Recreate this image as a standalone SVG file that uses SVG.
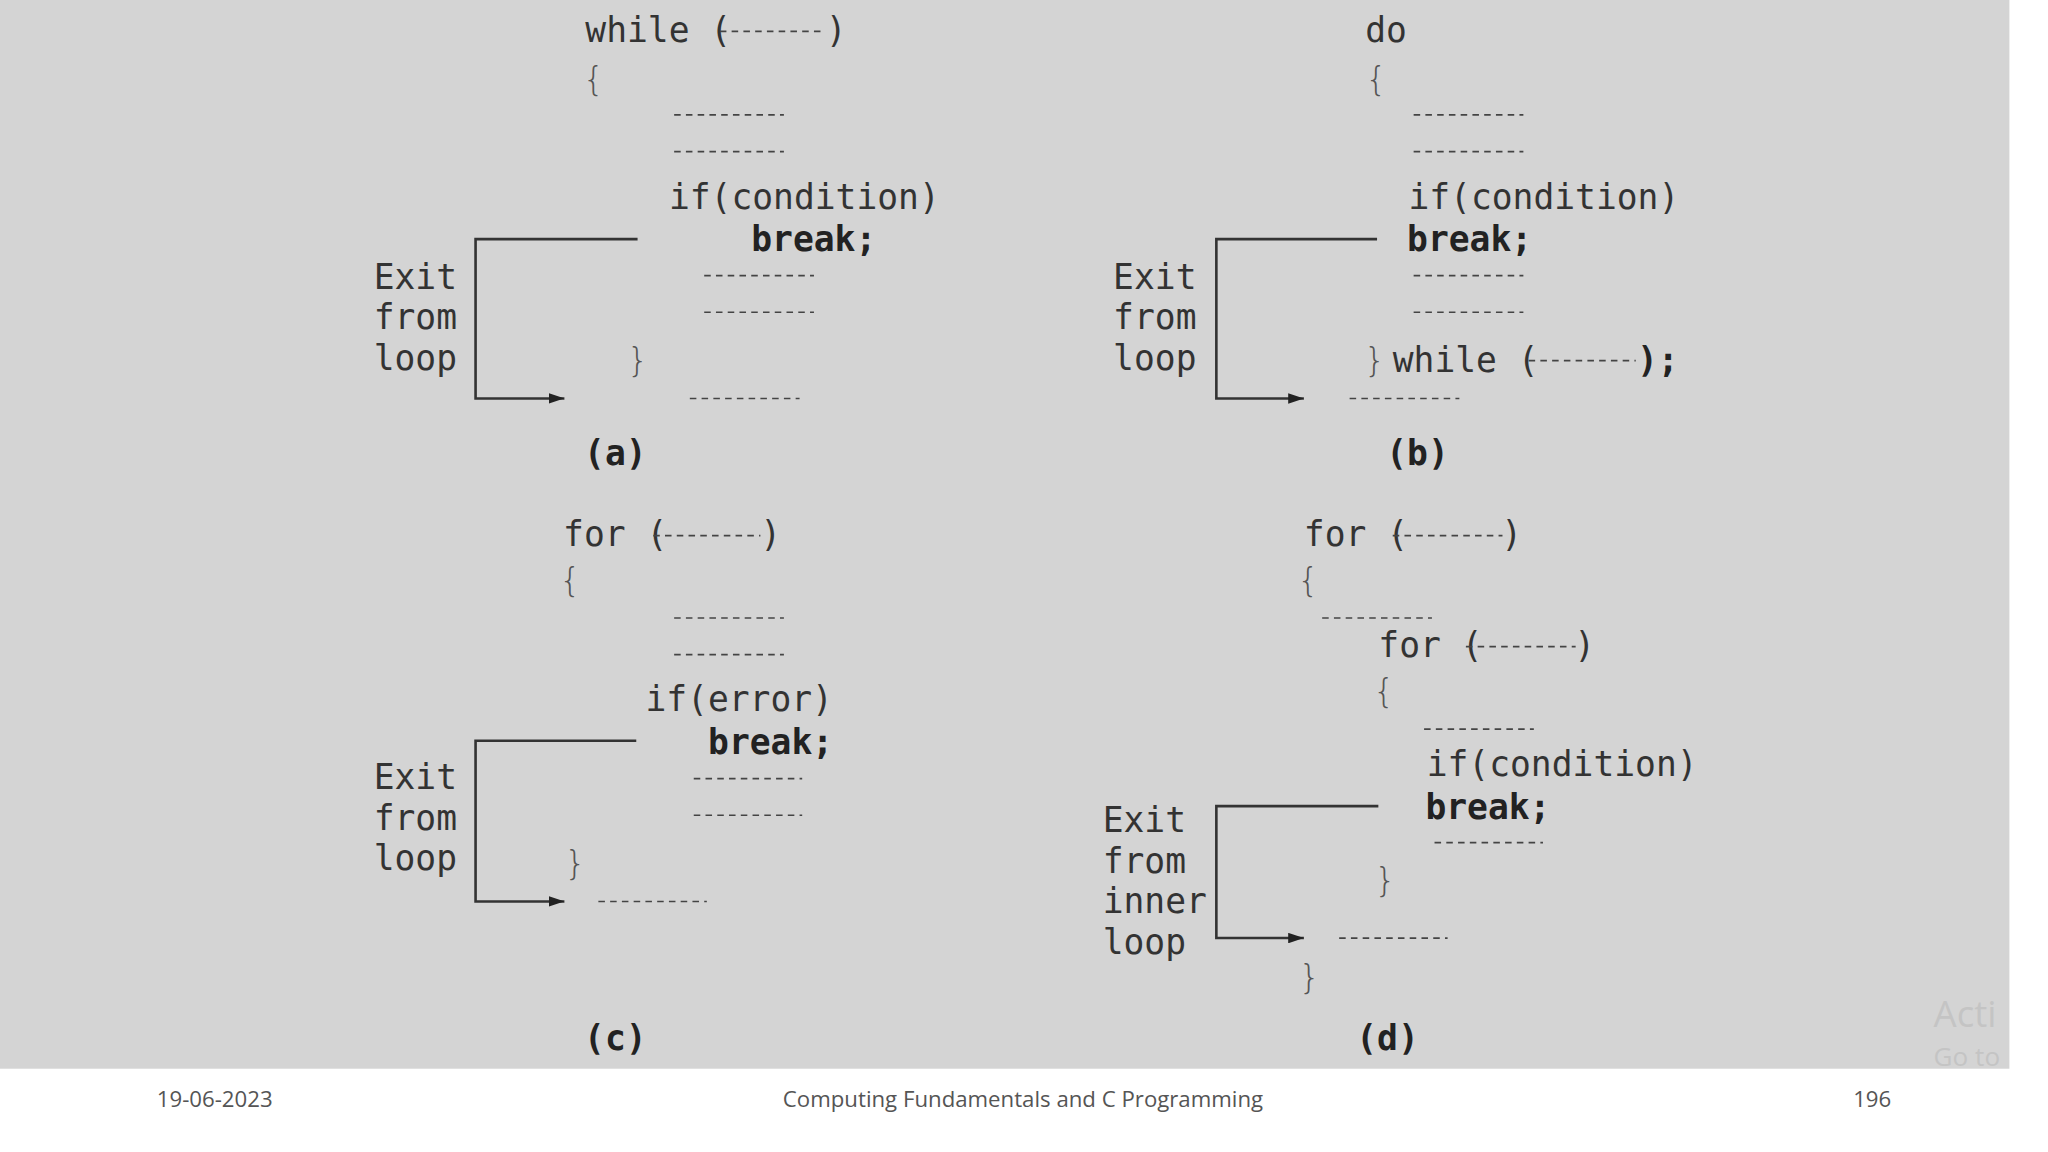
<svg xmlns="http://www.w3.org/2000/svg" width="2048" height="1152" viewBox="0 0 2048 1152">
<defs>
<style>
.c{font-family:"DejaVu Sans Mono","Liberation Mono",monospace;font-size:26.5px;fill:#333}
.b{font-weight:bold;fill:#222}
.br{font-family:"DejaVu Sans",sans-serif;font-size:26px;fill:#555;font-weight:200}
.d{stroke:#444;stroke-width:1.3;stroke-dasharray:5 4;fill:none}
.w{stroke:#333;stroke-width:2;fill:none}
.f{font-family:"Open Sans","Liberation Sans",sans-serif;font-size:17px;fill:#555}
</style>
<marker id="ah" viewBox="0 0 12 8" refX="12" refY="4" markerWidth="12" markerHeight="8" markerUnits="userSpaceOnUse" orient="auto"><path d="M0,0L12,4L0,8z" fill="#222"/></marker>
</defs>
<rect width="2048" height="1152" fill="#fff"/>
<g transform="scale(1.3065,1.3065)">
<rect x="0" y="0" width="1538" height="818" fill="#d4d4d4"/>
<g id="a">
<text class="c" x="448" y="32">while (</text><line class="d" x1="551" y1="24" x2="631" y2="24"/><text class="c" x="632" y="32">)</text>
<text class="br" x="446" y="70">{</text>
<line class="d" x1="516" y1="88" x2="600" y2="88"/><line class="d" x1="516" y1="116" x2="600" y2="116"/>
<text class="c" x="512" y="160">if(condition)</text>
<text class="c b" x="575" y="192">break;</text>
<line class="d" x1="539" y1="211" x2="623" y2="211"/><line class="d" x1="539" y1="239" x2="623" y2="239"/>
<text class="br" x="480" y="285">}</text>
<line class="d" x1="528" y1="305" x2="612" y2="305"/>
<text class="c" x="286" y="221">Exit</text><text class="c" x="286" y="252">from</text><text class="c" x="286" y="283">loop</text>
<text class="c b" x="471" y="356" text-anchor="middle">(a)</text>
</g>
<g id="b">
<text class="c" x="1045" y="32">do</text>
<text class="br" x="1045" y="70">{</text>
<line class="d" x1="1082" y1="88" x2="1166" y2="88"/><line class="d" x1="1082" y1="116" x2="1166" y2="116"/>
<text class="c" x="1078" y="160">if(condition)</text>
<text class="c b" x="1077" y="192">break;</text>
<line class="d" x1="1082" y1="211" x2="1166" y2="211"/><line class="d" x1="1082" y1="239" x2="1166" y2="239"/>
<text class="br" x="1044" y="285">}</text><text class="c" x="1066" y="285">while (</text><line class="d" x1="1170" y1="276" x2="1252" y2="276"/><text class="c b" x="1253" y="285">);</text>
<line class="d" x1="1033" y1="305" x2="1117" y2="305"/>
<text class="c" x="852" y="221">Exit</text><text class="c" x="852" y="252">from</text><text class="c" x="852" y="283">loop</text>
<text class="c b" x="1085" y="356" text-anchor="middle">(b)</text>
</g>
<g id="c">
<text class="c" x="431" y="418">for (</text><line class="d" x1="500" y1="410" x2="582" y2="410"/><text class="c" x="582" y="418">)</text>
<text class="br" x="428" y="453">{</text>
<line class="d" x1="516" y1="473" x2="600" y2="473"/><line class="d" x1="516" y1="501" x2="600" y2="501"/>
<text class="c" x="494" y="544">if(error)</text>
<text class="c b" x="542" y="577">break;</text>
<line class="d" x1="531" y1="596" x2="614" y2="596"/><line class="d" x1="531" y1="624" x2="614" y2="624"/>
<text class="br" x="432" y="670">}</text>
<line class="d" x1="458" y1="690" x2="541" y2="690"/>
<text class="c" x="286" y="604">Exit</text><text class="c" x="286" y="635">from</text><text class="c" x="286" y="666">loop</text>
<text class="c b" x="471" y="804" text-anchor="middle">(c)</text>
</g>
<g id="d">
<text class="c" x="998" y="418">for (</text><line class="d" x1="1066" y1="410" x2="1150" y2="410"/><text class="c" x="1149" y="418">)</text>
<text class="br" x="993" y="453">{</text>
<line class="d" x1="1012" y1="473" x2="1096" y2="473"/>
<text class="c" x="1055" y="503">for (</text><line class="d" x1="1122" y1="495" x2="1206" y2="495"/><text class="c" x="1205" y="503">)</text>
<text class="br" x="1051" y="538">{</text>
<line class="d" x1="1090" y1="558" x2="1174" y2="558"/>
<text class="c" x="1092" y="594">if(condition)</text>
<text class="c b" x="1091" y="627">break;</text>
<line class="d" x1="1098" y1="645" x2="1181" y2="645"/>
<text class="br" x="1052" y="683">}</text>
<line class="d" x1="1025" y1="718" x2="1108" y2="718"/>
<text class="br" x="994" y="757">}</text>
<text class="c" x="844" y="637">Exit</text><text class="c" x="844" y="668">from</text><text class="c" x="844" y="699">inner</text><text class="c" x="844" y="730">loop</text>
<text class="c b" x="1062" y="804" text-anchor="middle">(d)</text>
</g>
<g id="connectors">
<path class="w" d="M488,183H364V305H432" marker-end="url(#ah)"/>
<path class="w" d="M1054,183H931V305H998" marker-end="url(#ah)"/>
<path class="w" d="M487,567H364V690H432" marker-end="url(#ah)"/>
<path class="w" d="M1055,617H931V718H998" marker-end="url(#ah)"/>
</g>
<text x="1480" y="786" font-family="Open Sans,sans-serif" font-size="28" fill="#c4c4c4">Acti</text>
<text x="1480" y="816" font-family="Open Sans,sans-serif" font-size="20" fill="#c4c4c4">Go to</text>
<text class="f" x="120" y="847">19-06-2023</text>
<text class="f" x="783" y="847" text-anchor="middle">Computing Fundamentals and C Programming</text>
<text class="f" x="1433" y="847" text-anchor="middle">196</text>
</g>
</svg>
